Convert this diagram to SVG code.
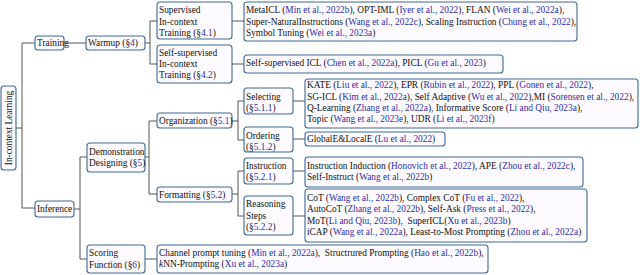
<svg xmlns="http://www.w3.org/2000/svg" width="640" height="275" viewBox="0 0 640 275">
<style>
.b{fill:#fdfbff;stroke:#3f6a93;stroke-width:1.1}
text{font-family:"Liberation Serif","Times New Roman",serif;font-size:9.35px;fill:#111}
.c{fill:#2d2da6}
.ln{fill:none;stroke:#555;stroke-width:1}
</style>
<rect width="640" height="275" fill="#fff"/>
<g id="connectors">
<path class="ln" d="M16,128H22M22,43V208M22,43H35M22,208H35M64,43H86M145,43H150M150,21V64M150,21H157M150,64H157M232,21H244M232,64H244M74,209H80M80,157V259M80,157H87M80,259H87M145,157H149M149,121V194M149,121H157M149,194H157M232,121H238M238,101V140M238,101H244M238,140H244M293,101H305M293,139H305M232,194H238M238,171V216M238,171H244M238,216H244M293,171H305M293,216H305M145,259H157"/>
</g>
<g id="root"><rect class="b" x="1" y="86" width="15" height="84" rx="3"/><text transform="translate(11.8,128) rotate(-90)" text-anchor="middle">In-context Learning</text></g>
<g id="training"><rect class="b" x="35" y="36" width="29" height="14" rx="3"/><text x="37" y="46.2">Training</text></g>
<g id="warmup"><rect class="b" x="86" y="36" width="59" height="14" rx="3"/><text x="88" y="46.2">Warmup (§<tspan class="c">4</tspan>)</text></g>
<g id="supervised"><rect class="b" x="157" y="2" width="75" height="37" rx="3"/><text x="159" y="13.2">Supervised</text><text x="159" y="25.2">In-context</text><text x="159" y="36.2">Training (§<tspan class="c">4.1</tspan>)</text></g>
<g id="supervised-list"><rect class="b" x="244" y="2" width="333" height="39" rx="3"/><text x="246" y="13.2">MetaICL (<tspan class="c">Min et al., 2022b</tspan>), OPT-IML (<tspan class="c">Iyer et al., 2022</tspan>), FLAN (<tspan class="c">Wei et al., 2022a</tspan>),</text><text x="246" y="25.2">Super-NaturalInstructions (<tspan class="c">Wang et al., 2022c</tspan>), Scaling Instruction (<tspan class="c">Chung et al., 2022</tspan>),</text><text x="246" y="36.2">Symbol Tuning (<tspan class="c">Wei et al., 2023a</tspan>)</text></g>
<g id="selfsup"><rect class="b" x="157" y="45" width="75" height="38" rx="3"/><text x="159" y="56.2">Self-supervised</text><text x="159" y="67.2">In-context</text><text x="159" y="78.2">Training (§<tspan class="c">4.2</tspan>)</text></g>
<g id="selfsup-list"><rect class="b" x="244" y="55" width="259" height="18" rx="3"/><text x="246" y="66.2">Self-supervised ICL (<tspan class="c">Chen et al., 2022a</tspan>), PICL (<tspan class="c">Gu et al., 2023</tspan>)</text></g>
<g id="inference"><rect class="b" x="35" y="201" width="39" height="16" rx="3"/><text x="37" y="212.2">Inference</text></g>
<g id="demo"><rect class="b" x="87" y="143" width="58" height="29" rx="3"/><text x="89" y="155.2">Demonstration</text><text x="89" y="166.2">Designing (§<tspan class="c">5</tspan>)</text></g>
<g id="organization"><rect class="b" x="157" y="113" width="75" height="15" rx="3"/><text x="159" y="124.2">Organization (§<tspan class="c">5.1</tspan>)</text></g>
<g id="selecting"><rect class="b" x="244" y="88" width="49" height="26" rx="3"/><text x="246" y="100.2">Selecting</text><text x="246" y="111.2">(§<tspan class="c">5.1.1</tspan>)</text></g>
<g id="selecting-list"><rect class="b" x="305" y="79" width="333" height="49" rx="3"/><text x="307" y="88.2">KATE (<tspan class="c">Liu et al., 2022</tspan>), EPR (<tspan class="c">Rubin et al., 2022</tspan>), PPL (<tspan class="c">Gonen et al., 2022</tspan>),</text><text x="307" y="100.2">SG-ICL (<tspan class="c">Kim et al., 2022a</tspan>), Self Adaptive (<tspan class="c">Wu et al., 2022</tspan>),MI (<tspan class="c">Sorensen et al., 2022</tspan>),</text><text x="307" y="111.2">Q-Learning (<tspan class="c">Zhang et al., 2022a</tspan>), Informative Score (<tspan class="c">Li and Qiu, 2023a</tspan>),</text><text x="307" y="122.2">Topic (<tspan class="c">Wang et al., 2023e</tspan>), UDR (<tspan class="c">Li et al., 2023f</tspan>)</text></g>
<g id="ordering"><rect class="b" x="244" y="127" width="49" height="25" rx="3"/><text x="246" y="139.2">Ordering</text><text x="246" y="150.2">(§<tspan class="c">5.1.2</tspan>)</text></g>
<g id="ordering-list"><rect class="b" x="305" y="132" width="140" height="14" rx="3"/><text x="307" y="142.2">GlobalE&amp;LocalE (<tspan class="c">Lu et al., 2022</tspan>)</text></g>
<g id="formatting"><rect class="b" x="157" y="187" width="75" height="15" rx="3"/><text x="159" y="197.7">Formatting (§<tspan class="c">5.2</tspan>)</text></g>
<g id="instruction"><rect class="b" x="244" y="158" width="49" height="26" rx="3"/><text x="246" y="169.2">Instruction</text><text x="246" y="180.2">(§<tspan class="c">5.2.1</tspan>)</text></g>
<g id="instruction-list"><rect class="b" x="305" y="157" width="278" height="30" rx="3"/><text x="307" y="169.2">Instruction Induction (<tspan class="c">Honovich et al., 2022</tspan>), APE (<tspan class="c">Zhou et al., 2022c</tspan>),</text><text x="307" y="180.2">Self-Instruct (<tspan class="c">Wang et al., 2022b</tspan>)</text></g>
<g id="reasoning"><rect class="b" x="244" y="196" width="49" height="39" rx="3"/><text x="246" y="207.2">Reasoning</text><text x="246" y="219.2">Steps</text><text x="246" y="230.2">(§<tspan class="c">5.2.2</tspan>)</text></g>
<g id="reasoning-list"><rect class="b" x="305" y="189" width="282" height="53" rx="3"/><text x="307" y="201.2">CoT (<tspan class="c">Wang et al., 2022b</tspan>), Complex CoT (<tspan class="c">Fu et al., 2022</tspan>),</text><text x="307" y="212.2">AutoCoT (<tspan class="c">Zhang et al., 2022b</tspan>), Self-Ask (<tspan class="c">Press et al., 2022</tspan>),</text><text x="307" y="224.2" xml:space="preserve">MoT(<tspan class="c">Li and Qiu, 2023b</tspan>),  SuperICL(<tspan class="c">Xu et al., 2023b</tspan>)</text><text x="307" y="235.2">iCAP (<tspan class="c">Wang et al., 2022a</tspan>), Least-to-Most Prompting (<tspan class="c">Zhou et al., 2022a</tspan>)</text></g>
<g id="scoring"><rect class="b" x="87" y="245" width="58" height="28" rx="3"/><text x="89" y="256.2">Scoring</text><text x="89" y="268.2">Function (§<tspan class="c">6</tspan>)</text></g>
<g id="scoring-list"><rect class="b" x="157" y="245" width="331" height="28" rx="3"/><text x="159" y="256.2" xml:space="preserve">Channel prompt tuning (<tspan class="c">Min et al., 2022a</tspan>),  Structrured Prompting (<tspan class="c">Hao et al., 2022b</tspan>),</text><text x="159" y="267.2"><tspan font-style="italic">k</tspan>NN-Prompting (<tspan class="c">Xu et al., 2023a</tspan>)</text></g>
</svg>
